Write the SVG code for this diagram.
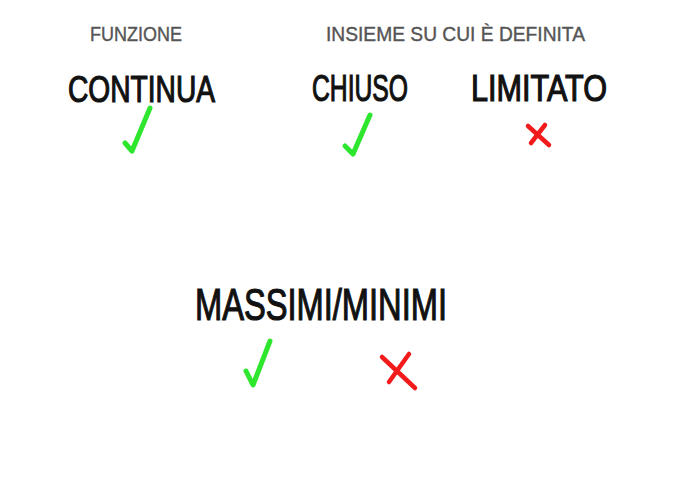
<svg xmlns="http://www.w3.org/2000/svg" width="700" height="500" viewBox="0 0 700 500">
<style>
.t{font-family:"Liberation Sans","DejaVu Sans",sans-serif;}
.h{fill:#555555;font-size:21px;stroke:#555555;stroke-width:0.4;}
.b{fill:#111111;font-size:37px;stroke:#111111;stroke-width:1.2;}
.ok{fill:none;stroke:#2ee62e;stroke-width:5;stroke-linecap:round;stroke-linejoin:round;}
.no{fill:none;stroke:#f21a1a;stroke-width:4.5;stroke-linecap:round;}
</style>
<rect width="700" height="500" fill="#ffffff"/>
<g id="funzione"><text class="t h" x="90" y="41" textLength="92" lengthAdjust="spacingAndGlyphs">FUNZIONE</text></g>
<g id="insieme"><text class="t h" x="326" y="41" textLength="259" lengthAdjust="spacingAndGlyphs">INSIEME SU CUI È DEFINITA</text></g>
<g id="continua">
<text class="t b" x="68" y="102" textLength="147" lengthAdjust="spacingAndGlyphs">CONTINUA</text>
<path class="ok" d="M125,143 L132,151 L150,108"/>
</g>
<g id="chiuso">
<text class="t b" x="312" y="101" textLength="96" lengthAdjust="spacingAndGlyphs">CHIUSO</text>
<path class="ok" d="M345,146 L353,154 L370,115"/>
</g>
<g id="limitato">
<text class="t b" x="471" y="101" textLength="136" lengthAdjust="spacingAndGlyphs">LIMITATO</text>
<path class="no" d="M528,126 L549,145 M545,125 L531,143"/>
</g>
<g id="massimi">
<text class="t b" style="font-size:45px" x="195" y="320" textLength="252" lengthAdjust="spacingAndGlyphs">MASSIMI/MINIMI</text>
<path class="ok" d="M246,371 L253,385 L270,341"/>
<path class="no" d="M382,357 L415,388 M409,354 L389,382"/>
</g>
<g id="connectors"></g>
</svg>
